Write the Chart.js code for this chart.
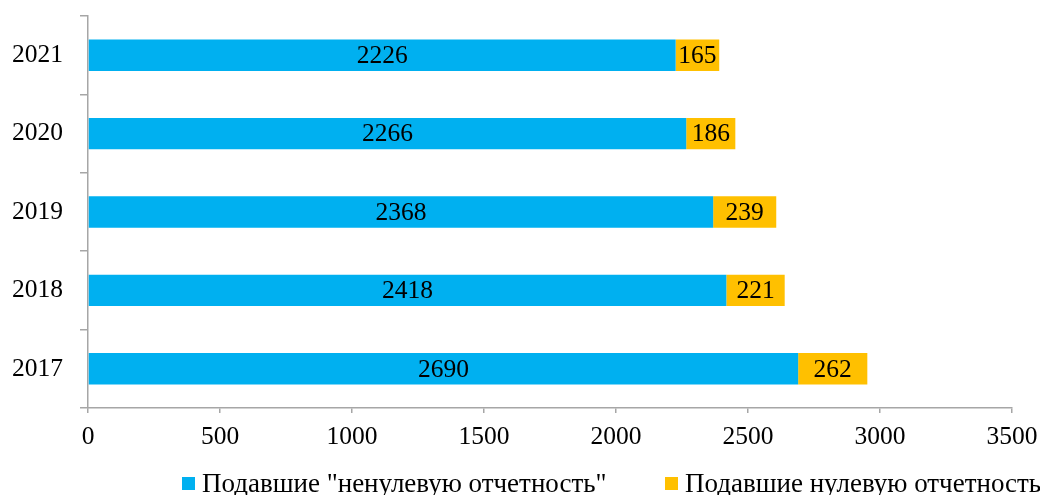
<!DOCTYPE html>
<html>
<head>
<meta charset="utf-8">
<script src="https://cdn.jsdelivr.net/npm/chart.js@4"></script>
<style>
  html, body { margin: 0; padding: 0; background: #fff; overflow: hidden; }
  #wrap { width: 1040px; height: 495px; }
</style>
</head>
<body>
<div id="wrap"><canvas id="reportChart" width="1040" height="495"></canvas></div>
<script>
const years = ['2021', '2020', '2019', '2018', '2017'];
const nonZeroReports = [2226, 2266, 2368, 2418, 2690];
const zeroReports = [165, 186, 239, 221, 262];
const seriesNames = ['Подавшие "ненулевую отчетность"', 'Подавшие нулевую отчетность'];
const xTicks = [0, 500, 1000, 1500, 2000, 2500, 3000, 3500];

const serif = "'Liberation Serif', 'Times New Roman', serif";
const axisGray = '#a6a6a6';

// value in the middle of every bar segment
const segmentLabels = {
    id: 'segmentLabels',
    afterDatasetsDraw(chart) {
        const ctx = chart.ctx;
        ctx.save();
        ctx.font = '25.5px ' + serif;
        ctx.fillStyle = '#000';
        ctx.textAlign = 'center';
        ctx.textBaseline = 'middle';
        chart.data.datasets.forEach((ds, i) => {
            chart.getDatasetMeta(i).data.forEach((bar, j) => {
                ctx.fillText(ds.data[j], (bar.x + bar.base) / 2, bar.y + 1);
            });
        });
        ctx.restore();
    }
};

// legend row under the axis
const bottomLegend = {
    id: 'bottomLegend',
    afterDraw(chart) {
        const ctx = chart.ctx;
        const starts = [182, 665];
        const y = 484;
        ctx.save();
        ctx.font = '27px ' + serif;
        ctx.textBaseline = 'middle';
        ctx.textAlign = 'left';
        chart.data.datasets.forEach((ds, i) => {
            ctx.fillStyle = ds.backgroundColor;
            ctx.fillRect(starts[i], y - 7, 13, 13);
            ctx.fillStyle = '#000';
            ctx.fillText(ds.label, starts[i] + 20, y + 1);
        });
        ctx.restore();
    }
};

new Chart(document.getElementById('reportChart'), {
    type: 'bar',
    data: {
        labels: years,
        datasets: [
            {
                label: seriesNames[0],
                data: nonZeroReports,
                backgroundColor: '#00b0f0',
                barPercentage: 0.4,
                categoryPercentage: 1
            },
            {
                label: seriesNames[1],
                data: zeroReports,
                backgroundColor: '#ffc000',
                barPercentage: 0.4,
                categoryPercentage: 1
            }
        ]
    },
    options: {
        indexAxis: 'y',
        responsive: false,
        animation: false,
        layout: {
            padding: { top: 16, right: 28, bottom: 0, left: 0 }
        },
        scales: {
            x: {
                stacked: true,
                min: 0,
                max: 3500,
                afterBuildTicks(scale) {
                    scale.ticks = xTicks.map(v => ({ value: v }));
                },
                afterFit(scale) {
                    scale.height = 87;
                    scale.paddingLeft = 0;
                    scale.paddingRight = 0;
                },
                border: { color: axisGray, width: 1.5 },
                grid: {
                    drawOnChartArea: false,
                    drawTicks: true,
                    tickLength: 5,
                    color: axisGray,
                    lineWidth: 1.5
                },
                ticks: {
                    font: { family: serif, size: 25.5 },
                    color: '#000',
                    padding: 9,
                    maxRotation: 0,
                    callback: v => String(v)
                }
            },
            y: {
                stacked: true,
                afterFit(scale) {
                    scale.width = 88;
                    scale.paddingTop = 0;
                    scale.paddingBottom = 0;
                },
                border: { color: axisGray, width: 1.5 },
                grid: {
                    drawOnChartArea: false,
                    drawTicks: true,
                    tickLength: 8,
                    offset: true,
                    color: axisGray,
                    lineWidth: 1.5
                },
                ticks: {
                    font: { family: serif, size: 25.5 },
                    color: '#000',
                    padding: 17
                }
            }
        },
        plugins: {
            legend: { display: false },
            tooltip: { enabled: false }
        }
    },
    plugins: [segmentLabels, bottomLegend]
});
</script>
</body>
</html>
